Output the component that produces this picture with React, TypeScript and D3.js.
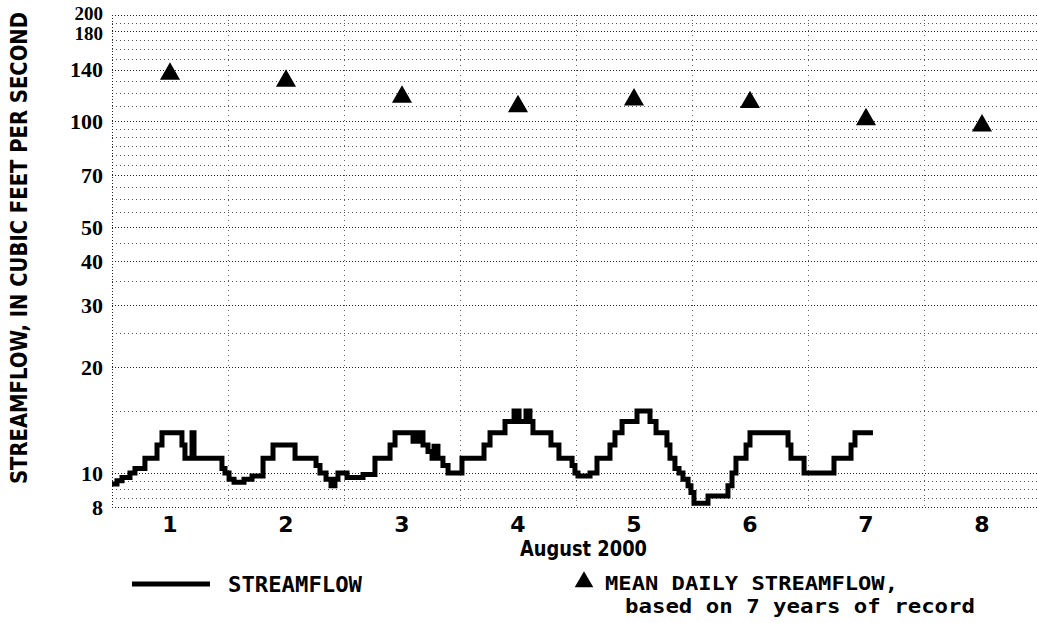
import React from "react";
import * as d3 from "d3";

// streamflow, step breakpoints: [day of August 2000, cubic feet per second]
const FLOW_DAYS = [
  0.5, 0.543, 0.586, 0.655, 0.698, 0.784, 0.888, 0.931, 1.103, 1.129, 1.19, 1.207,
  1.448, 1.474, 1.509, 1.552, 1.638, 1.707, 1.802, 1.888, 2.078, 2.259, 2.293, 2.345,
  2.388, 2.422, 2.448, 2.526, 2.664, 2.767, 2.897, 2.94, 3.095, 3.138, 3.181, 3.224,
  3.259, 3.276, 3.31, 3.353, 3.397, 3.517, 3.707, 3.759, 3.888, 3.966, 4.009, 4.069,
  4.103, 4.129, 4.284, 4.353, 4.466, 4.491, 4.517, 4.621, 4.681, 4.793, 4.836, 4.897,
  5.026, 5.138, 5.19, 5.284, 5.31, 5.353, 5.388, 5.422, 5.466, 5.491, 5.517, 5.638,
  5.81, 5.845, 5.879, 5.966, 6.0, 6.328, 6.353, 6.466, 6.724, 6.871, 6.905, 7.06,
];
const FLOW_VALUES = [
  9.3, 9.5, 9.7, 10.0, 10.3, 11.0, 12.0, 13.0, 12.0, 11.0, 13.0, 11.0,
  10.3, 10.0, 9.6, 9.4, 9.6, 9.8, 11.0, 12.0, 11.0, 10.5, 10.0, 9.6,
  9.2, 9.6, 10.0, 9.7, 9.9, 11.0, 12.0, 13.0, 12.3, 13.0, 12.0, 11.5,
  11.0, 11.9, 11.0, 10.5, 10.0, 11.0, 12.0, 13.0, 14.0, 15.0, 14.0, 15.0,
  14.0, 13.0, 12.0, 11.0, 10.5, 10.0, 9.8, 10.0, 11.0, 12.0, 13.0, 14.0,
  15.0, 14.0, 13.0, 12.0, 11.0, 10.3, 10.0, 9.6, 9.2, 8.8, 8.2, 8.6,
  9.2, 10.0, 11.0, 12.0, 13.0, 12.0, 11.0, 10.0, 11.0, 12.0, 13.0, 13.0,
];

// mean daily streamflow, 7 years of record
const MEAN_DAYS = [1, 2, 3, 4, 5, 6, 7, 8];
const MEAN_VALUES = [136, 130, 117, 110, 115, 113, 101, 97];

const Y_TICKS = [8, 10, 20, 30, 40, 50, 70, 100, 140, 180, 200];
const Y_GRID = [
  8, 8.5, 9, 9.5, 10, 15, 20, 25, 30, 35, 40, 45, 50, 55, 60, 65, 70, 75, 80, 85, 90, 95,
  100, 110, 120, 130, 140, 150, 160, 170, 180, 190, 200,
];
const X_TICKS = [1, 2, 3, 4, 5, 6, 7, 8];
const X_GRID = [0.5, 1.5, 2.5, 3.5, 4.5, 5.5, 6.5, 7.5, 8.5];

const W = 1037;
const H = 623;
const MONO = "'DejaVu Sans Mono', monospace";
const SANS = "'DejaVu Sans', sans-serif";
const SERIF = "'Liberation Serif', 'DejaVu Serif', serif";

export default function App() {
  const x = d3.scaleLinear().domain([0.5, 8.5]).range([112, 1040]);
  const y = d3.scaleLog().domain([8, 200]).range([507, 15]);

  const flow = FLOW_DAYS.map((d, i) => [d, FLOW_VALUES[i]] as [number, number]);
  const line = d3
    .line<[number, number]>()
    .x((d) => x(d[0]))
    .y((d) => y(d[1]))
    .curve(d3.curveStepAfter);

  const tri = d3.symbol(d3.symbolTriangle, 175)();
  const triSmall = d3.symbol(d3.symbolTriangle, 150)();

  // the two top labels sit almost on top of each other, pull them apart a bit
  const labelShift = (v: number) => (v === 200 ? -2 : v === 180 ? 2 : 0);

  return (
    <svg
      width={W}
      height={H}
      style={{ position: "absolute", left: 0, top: 0, background: "#fff" }}
    >
      {/* horizontal grid */}
      {Y_GRID.map((v) => {
        const major = Y_TICKS.includes(v);
        return (
          <line
            key={v}
            x1={x(0.5)}
            x2={W}
            y1={Math.round(y(v)) + 0.5}
            y2={Math.round(y(v)) + 0.5}
            stroke={major ? "#222" : "#555"}
            strokeWidth={1}
            strokeDasharray={major ? "1 2" : "1 3"}
            shapeRendering="crispEdges"
          />
        );
      })}

      {/* vertical grid at day boundaries */}
      {X_GRID.map((d, i) => (
        <line
          key={d}
          x1={Math.round(x(d)) + 0.5}
          x2={Math.round(x(d)) + 0.5}
          y1={y(200)}
          y2={y(8)}
          stroke={i === 0 ? "#222" : "#666"}
          strokeWidth={1}
          strokeDasharray={i === 0 ? "1 2" : "1 4"}
          shapeRendering="crispEdges"
        />
      ))}

      {/* y tick labels */}
      {Y_TICKS.map((v) => (
        <text
          key={v}
          x={103}
          y={y(v) + labelShift(v)}
          dy="0.35em"
          textAnchor="end"
          fontFamily={SERIF}
          fontWeight="bold"
          fontSize={v >= 180 ? 19 : 22}
        >
          {v}
        </text>
      ))}

      {/* y axis title */}
      <text
        transform="translate(27,248) rotate(-90) scale(1,1.15)"
        textAnchor="middle"
        fontFamily={SANS}
        fontWeight="bold"
        fontSize={20}
        textLength={472}
        lengthAdjust="spacingAndGlyphs"
      >
        STREAMFLOW, IN CUBIC FEET PER SECOND
      </text>

      {/* x tick labels */}
      {X_TICKS.map((d) => (
        <text
          key={d}
          x={x(d)}
          y={532}
          textAnchor="middle"
          fontFamily={SANS}
          fontWeight="bold"
          fontSize={22}
        >
          {d}
        </text>
      ))}
      <text
        x={520}
        y={556}
        fontFamily={SANS}
        fontWeight="bold"
        fontSize={21}
        textLength={127}
        lengthAdjust="spacingAndGlyphs"
      >
        August 2000
      </text>

      {/* streamflow */}
      <path
        d={line(flow) ?? ""}
        fill="none"
        stroke="#000"
        strokeWidth={5}
        strokeLinejoin="miter"
      />

      {/* mean daily streamflow */}
      {MEAN_DAYS.map((d, i) => (
        <path
          key={d}
          d={tri ?? ""}
          transform={`translate(${x(d)},${y(MEAN_VALUES[i])})`}
          fill="#000"
        />
      ))}

      {/* legend */}
      <line x1={132} x2={210} y1={584} y2={584} stroke="#000" strokeWidth={5} />
      <text
        x={228}
        y={592}
        fontFamily={MONO}
        fontWeight="bold"
        fontSize={22}
        textLength={134}
        lengthAdjust="spacingAndGlyphs"
      >
        STREAMFLOW
      </text>
      <path d={triSmall ?? ""} transform="translate(584,582)" fill="#000" />
      <text
        x={605}
        y={590}
        fontFamily={MONO}
        fontWeight="bold"
        fontSize={19}
        textLength={293}
        lengthAdjust="spacingAndGlyphs"
      >
        MEAN DAILY STREAMFLOW,
      </text>
      <text
        x={625}
        y={613}
        fontFamily={MONO}
        fontWeight="bold"
        fontSize={19}
        textLength={350}
        lengthAdjust="spacingAndGlyphs"
      >
        based on 7 years of record
      </text>
    </svg>
  );
}
